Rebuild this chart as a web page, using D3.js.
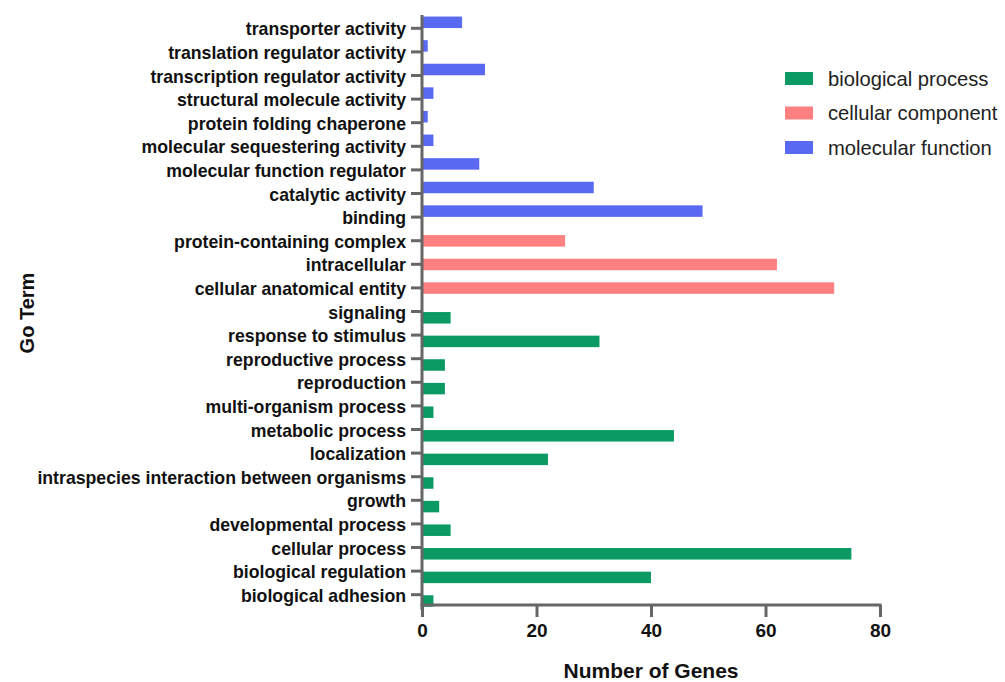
<!DOCTYPE html>
<html>
<head>
<meta charset="utf-8">
<script src="https://cdn.jsdelivr.net/npm/d3@7"></script>
<style>
  html, body { margin: 0; padding: 0; background: #fff; }
  svg { display: block; font-family: "Liberation Sans", Arial, sans-serif; }
</style>
</head>
<body>
<svg id="chart" width="1005" height="682"></svg>
<script>
// GO term annotation counts, listed top to bottom as displayed
const categories = [
  "transporter activity",
  "translation regulator activity",
  "transcription regulator activity",
  "structural molecule activity",
  "protein folding chaperone",
  "molecular sequestering activity",
  "molecular function regulator",
  "catalytic activity",
  "binding",
  "protein-containing complex",
  "intracellular",
  "cellular anatomical entity",
  "signaling",
  "response to stimulus",
  "reproductive process",
  "reproduction",
  "multi-organism process",
  "metabolic process",
  "localization",
  "intraspecies interaction between organisms",
  "growth",
  "developmental process",
  "cellular process",
  "biological regulation",
  "biological adhesion"
];
const geneCounts = [7, 1, 11, 2, 1, 2, 10, 30, 49, 25, 62, 72, 5, 31, 4, 4, 2, 44, 22, 2, 3, 5, 75, 40, 2];
const ontology = [
  "molecular function", "molecular function", "molecular function", "molecular function",
  "molecular function", "molecular function", "molecular function", "molecular function",
  "molecular function",
  "cellular component", "cellular component", "cellular component",
  "biological process", "biological process", "biological process", "biological process",
  "biological process", "biological process", "biological process", "biological process",
  "biological process", "biological process", "biological process", "biological process",
  "biological process"
];
const legendOrder = ["biological process", "cellular component", "molecular function"];
const groupOrder = ["molecular function", "cellular component", "biological process"];
const xTicks = [0, 20, 40, 60, 80];
const colors = ["#0b9a63", "#ff8080", "#5a69f2"];

const rows = categories.map((c, i) => ({ term: c, count: geneCounts[i], group: ontology[i] }));

const svg = d3.select("#chart");
const axisColor = "#666666";

const x = d3.scaleLinear().domain([0, 80]).range([422, 880]);
const y = d3.scaleBand().domain(categories).range([16.5, 606.5]);
// each ontology occupies its own slot inside a category band
const slot = d3.scalePoint().domain(groupOrder).range([-6, 6.3]);
const color = d3.scaleOrdinal().domain(legendOrder).range(colors);
const barH = 11.5;
const x0 = x(0), yAxisBottom = 605;

// bars
svg.append("g").selectAll("rect")
  .data(rows)
  .join("rect")
  .attr("x", x0)
  .attr("y", d => y(d.term) + y.bandwidth() / 2 + slot(d.group) - barH / 2)
  .attr("width", d => x(d.count) - x0)
  .attr("height", barH)
  .attr("fill", d => color(d.group));

// y axis
const yAxis = svg.append("g")
  .attr("transform", `translate(${x0},0)`)
  .call(d3.axisLeft(y).tickSize(11).tickSizeOuter(0).tickPadding(5));
yAxis.select(".domain").remove();
yAxis.selectAll(".tick line").attr("stroke", axisColor).attr("stroke-width", 3);
yAxis.selectAll(".tick text")
  .attr("fill", "#111")
  .attr("dy", "0.4em")
  .attr("font-size", "17.7px")
  .attr("font-weight", "bold")
  .attr("font-family", "Liberation Sans, Arial, sans-serif");

// x axis
const xAxis = svg.append("g")
  .attr("transform", `translate(0,${yAxisBottom})`)
  .call(d3.axisBottom(x).tickValues(xTicks).tickSize(12).tickSizeOuter(0).tickPadding(7));
xAxis.select(".domain").remove();
xAxis.selectAll(".tick line").attr("stroke", axisColor).attr("stroke-width", 3);
xAxis.selectAll(".tick text")
  .attr("fill", "#111")
  .attr("font-size", "19px")
  .attr("font-weight", "bold")
  .attr("font-family", "Liberation Sans, Arial, sans-serif");

// axis lines
svg.append("line")
  .attr("x1", x0).attr("x2", x0)
  .attr("y1", 15).attr("y2", yAxisBottom + 5)
  .attr("stroke", axisColor).attr("stroke-width", 3);
svg.append("line")
  .attr("x1", x0 - 1.5).attr("x2", x(80) + 1.5)
  .attr("y1", yAxisBottom).attr("y2", yAxisBottom)
  .attr("stroke", axisColor).attr("stroke-width", 3);

// axis titles
svg.append("text")
  .attr("x", (x(0) + x(80)) / 2)
  .attr("y", 678)
  .attr("text-anchor", "middle")
  .attr("font-size", "21px")
  .attr("font-weight", "bold")
  .attr("fill", "#111")
  .text("Number of Genes");

svg.append("text")
  .attr("transform", "translate(34,313) rotate(-90)")
  .attr("text-anchor", "middle")
  .attr("font-size", "20px")
  .attr("font-weight", "bold")
  .attr("fill", "#111")
  .text("Go Term");

// legend
const legend = svg.append("g");
const leg = legend.selectAll("g")
  .data(legendOrder)
  .join("g")
  .attr("transform", (d, i) => `translate(785,${72 + i * 34.5})`);
leg.append("rect")
  .attr("width", 28).attr("height", 13)
  .attr("fill", d => color(d));
leg.append("text")
  .attr("x", 43)
  .attr("y", 6.5)
  .attr("dy", "0.35em")
  .attr("font-size", "20.2px")
  .attr("fill", "#222")
  .text(d => d);
</script>
</body>
</html>
